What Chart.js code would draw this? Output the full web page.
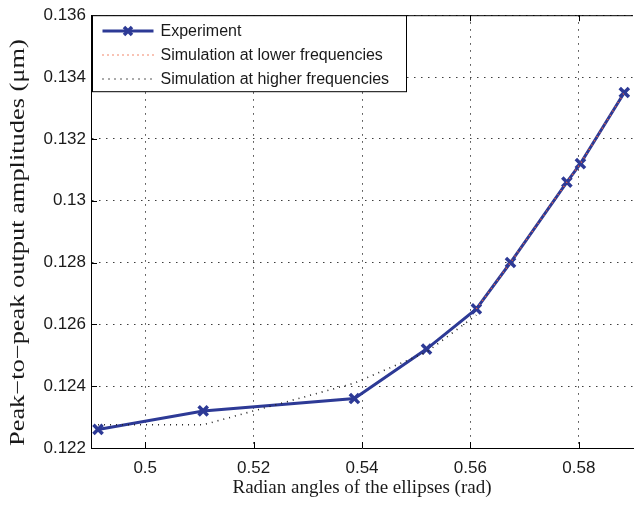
<!DOCTYPE html>
<html>
<head>
<meta charset="utf-8">
<script src="https://cdn.jsdelivr.net/npm/chart.js@4.4.0/dist/chart.umd.min.js"></script>
<style>
  html, body { margin: 0; padding: 0; background: #fff; }
</style>
</head>
<body>
<canvas id="amplitudes" width="643" height="505"></canvas>
<script>
// measured peak-to-peak amplitudes (um) against ellipse angle (rad)
const expAngles = [0.4913, 0.5107, 0.5386, 0.5519, 0.5611, 0.5674, 0.5778, 0.5803, 0.5884];
const expAmps = [0.1226, 0.1232, 0.1236, 0.1252, 0.1265, 0.1280, 0.1306, 0.1312, 0.1335];

// simulation, lower frequency band
const lowAngles = [0.5611, 0.5674, 0.5778, 0.5803, 0.5884];
const lowAmps = [0.1265, 0.1280, 0.1306, 0.1312, 0.1335];

// simulation, higher frequency band
const highAngles = [0.4913, 0.5107, 0.5386, 0.5519, 0.5611];
const highAmps = [0.12275, 0.12275, 0.1241, 0.1251, 0.1263];

const xTicks = [0.5, 0.52, 0.54, 0.56, 0.58];
const yTicks = [0.122, 0.124, 0.126, 0.128, 0.13, 0.132, 0.134, 0.136];

const Y_LABEL = 'Peak\u2212to\u2212peak output amplitudes (\u03bcm)';
const BLUE = '#2D3A96';
const TEXT = '#1a1a1a';

const toPoints = (xs, ys) => xs.map((x, i) => ({ x: x, y: ys[i] }));

// axis frame: solid top edge plus inward tick marks
const frame = {
    id: 'frame',
    afterDatasetsDraw(chart) {
        const c = chart.ctx;
        const a = chart.chartArea;
        const len = 6;
        c.save();
        c.strokeStyle = '#000';
        c.lineWidth = 1;
        c.beginPath();
        c.moveTo(a.left, a.top + 0.5);
        c.lineTo(a.right, a.top + 0.5);
        xTicks.forEach(v => {
            const px = Math.round(chart.scales.x.getPixelForValue(v)) + 0.5;
            c.moveTo(px, a.bottom);
            c.lineTo(px, a.bottom - len);
            c.moveTo(px, a.top);
            c.lineTo(px, a.top + len);
        });
        yTicks.forEach(v => {
            const py = Math.round(chart.scales.y.getPixelForValue(v)) + 0.5;
            c.moveTo(a.left, py);
            c.lineTo(a.left + len, py);
        });
        c.stroke();
        c.restore();
    }
};

// vertical axis title, drawn stretched along its length
const yTitle = {
    id: 'yTitle',
    afterDraw(chart) {
        const c = chart.ctx;
        const a = chart.chartArea;
        c.save();
        c.translate(19, a.bottom - 2);
        c.rotate(-Math.PI / 2);
        c.scale(1.32, 1);
        c.font = '20px "Liberation Serif", "Times New Roman", serif';
        c.textAlign = 'left';
        c.textBaseline = 'middle';
        c.fillStyle = TEXT;
        c.fillText(Y_LABEL, 0, 0);
        c.restore();
    }
};

// boxed legend in the upper left corner of the plot
const legendBox = {
    id: 'legendBox',
    afterDraw(chart) {
        const c = chart.ctx;
        const a = chart.chartArea;
        const bx = a.left + 1.5, by = a.top + 0.5, bw = 314, bh = 76;
        c.save();
        c.fillStyle = '#fff';
        c.fillRect(bx, by, bw, bh);
        c.strokeStyle = '#000';
        c.lineWidth = 1;
        c.strokeRect(bx, by, bw, bh);
        c.font = '16px "Liberation Sans", Arial, sans-serif';
        c.textBaseline = 'middle';
        chart.data.datasets.forEach((ds, i) => {
            const y = Math.round(by + 15 + i * 24);
            const x0 = bx + 10, x1 = bx + 61;
            c.strokeStyle = ds.borderColor;
            c.lineWidth = ds.borderWidth;
            c.setLineDash(ds.borderDash || []);
            c.beginPath();
            c.moveTo(x0, y);
            c.lineTo(x1, y);
            c.stroke();
            c.setLineDash([]);
            if (ds.pointRadius > 0) {
                const mx = (x0 + x1) / 2, r = 4;
                c.lineWidth = ds.pointBorderWidth;
                c.beginPath();
                c.moveTo(mx - r, y - r); c.lineTo(mx + r, y + r);
                c.moveTo(mx - r, y + r); c.lineTo(mx + r, y - r);
                c.stroke();
            }
            c.fillStyle = TEXT;
            c.fillText(ds.label, bx + 68, y + 1);
        });
        c.restore();
    }
};

const ctx = document.getElementById('amplitudes').getContext('2d');
const chart = new Chart(ctx, {
    type: 'line',
    data: {
        datasets: [
            {
                label: 'Experiment',
                data: toPoints(expAngles, expAmps),
                borderColor: BLUE,
                borderWidth: 3,
                pointStyle: 'crossRot',
                pointRadius: 6.5,
                pointBorderWidth: 3.5,
                pointBorderColor: BLUE,
                pointBackgroundColor: BLUE,
                order: 2
            }, {
                label: 'Simulation at lower frequencies',
                data: toPoints(lowAngles, lowAmps),
                borderColor: '#F0603A',
                borderWidth: 1.6,
                borderDash: [1, 4],
                pointRadius: 0,
                order: 1
            }, {
                label: 'Simulation at higher frequencies',
                data: toPoints(highAngles, highAmps),
                borderColor: '#222',
                borderWidth: 1.6,
                borderDash: [1, 5],
                pointRadius: 0,
                order: 0
            }
        ]
    },
    options: {
        responsive: false,
        animation: false,
        layout: { padding: { top: 14, right: 0, bottom: 0, left: 0 } },
        plugins: {
            legend: { display: false },
            tooltip: { enabled: false }
        },
        scales: {
            x: {
                type: 'linear',
                min: 0.49,
                max: 0.59,
                afterBuildTicks: s => { s.ticks = xTicks.map(v => ({ value: v })); },
                afterFit: s => { s.height = 57; },
                grid: { color: 'rgba(40,40,40,0.9)', lineWidth: 1, drawTicks: false },
                border: { display: true, color: '#000', width: 1, dash: [1.5, 5.5] },
                ticks: {
                    color: TEXT,
                    padding: 10,
                    maxRotation: 0,
                    font: { family: '"Liberation Sans", Arial, sans-serif', size: 17 },
                    callback: v => String(v)
                },
                title: {
                    display: true,
                    text: 'Radian angles of the ellipses (rad)',
                    color: TEXT,
                    font: { family: '"Liberation Serif", "Times New Roman", serif', size: 19 },
                    padding: { top: 0, bottom: 6 }
                }
            },
            y: {
                type: 'linear',
                min: 0.122,
                max: 0.136,
                afterBuildTicks: s => { s.ticks = yTicks.map(v => ({ value: v })); },
                afterFit: s => { s.width = 91; },
                grid: { color: 'rgba(40,40,40,0.9)', lineWidth: 1, drawTicks: false },
                border: { display: true, color: '#000', width: 1, dash: [1.5, 5.5] },
                ticks: {
                    color: TEXT,
                    padding: 5,
                    font: { family: '"Liberation Sans", Arial, sans-serif', size: 17 },
                    callback: v => String(v)
                }
            }
        }
    },
    plugins: [frame, yTitle, legendBox]
});
</script>
</body>
</html>
